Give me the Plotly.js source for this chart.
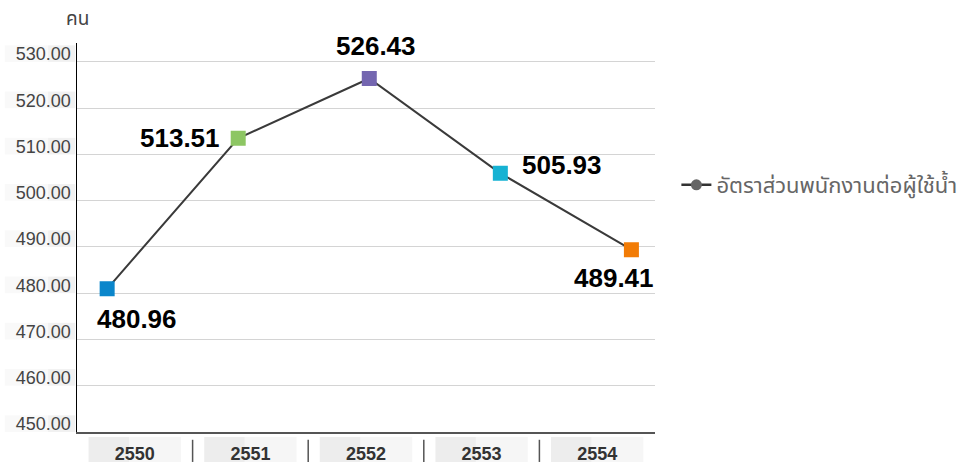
<!DOCTYPE html>
<html>
<head>
<meta charset="utf-8">
<script src="https://cdn.plot.ly/plotly-3.0.1.min.js"></script>
<style>html,body{margin:0;padding:0;background:#fff;}#chart{width:964px;height:463px;}</style>
</head>
<body>
<div id="chart"></div>
<script>
// ---- data ----
const years = ["2550", "2551", "2552", "2553", "2554"];
const ratio = [480.96, 513.51, 526.43, 505.93, 489.41];
const seriesName = "อัตราส่วนพนักงานต่อผู้ใช้น้ำ";
const unitLabel = "คน";
const yTicks = [450, 460, 470, 480, 490, 500, 510, 520, 530];

// ---- styles ----
const pointColors = ["#0b86cb", "#8dc663", "#7466b0", "#16b2d3", "#f27c06"];
const labelShift = [[30, -30], [-16, 0], [7, 32], [20, 8], [-17, -28]];
const labelAnchor = ["center", "right", "center", "left", "center"];
const numFont = "Liberation Sans, Arial, Helvetica, sans-serif";
const thaiFont = "Noto Sans Thai, Noto Sans, DejaVu Sans, sans-serif";

const traces = [
  {
    x: years, y: ratio, type: "scatter", mode: "lines+markers",
    xaxis: "x", yaxis: "y", showlegend: false, cliponaxis: false,
    line: {color: "#3a3a3a", width: 2},
    marker: {symbol: "square", size: 12, color: pointColors, line: {color: pointColors, width: 3}},
    hoverinfo: "x+y"
  },
  {
    x: years, y: years.map(() => null), type: "scatter", mode: "markers",
    xaxis: "x2", yaxis: "y", showlegend: false, hoverinfo: "skip"
  },
  {
    x: [null], y: [null], type: "scatter", mode: "lines+markers", name: seriesName,
    line: {color: "#333", width: 2.5}, marker: {symbol: "circle", size: 11, color: "#666"}
  }
];

const annotations = ratio.map((v, i) => ({
  x: i, y: v, xref: "x", yref: "y",
  text: "<b>" + v.toFixed(2) + "</b>", showarrow: false,
  xanchor: labelAnchor[i], yanchor: "middle",
  xshift: labelShift[i][0], yshift: labelShift[i][1],
  font: {family: numFont, size: 26, color: "#000"}
}));
annotations.push({
  x: 0, y: 1.06, xref: "paper", yref: "paper", text: unitLabel, showarrow: false,
  xanchor: "center", yanchor: "middle", font: {family: thaiFont, size: 19, color: "#444"}
});

const shapes = [];
years.forEach((y, i) => {
  shapes.push({type: "rect", xref: "x2", yref: "paper", x0: i - 0.4, x1: i + 0.4, y0: -0.013, y1: -0.077,
    fillcolor: "rgba(0,0,0,0.035)", line: {width: 0}, layer: "below"});
  shapes.push({type: "rect", xref: "x2", yref: "paper", x0: i - 0.4, x1: i - 0.05, y0: -0.013, y1: -0.077,
    fillcolor: "rgba(0,0,0,0.035)", line: {width: 0}, layer: "below"});
  if (i < years.length - 1) {
    shapes.push({type: "line", xref: "x2", yref: "paper", x0: i + 0.5, x1: i + 0.5, y0: -0.02, y1: -0.077,
      line: {color: "#555", width: 1.5}});
  }
});
yTicks.forEach(t => {
  shapes.push({type: "rect", xref: "paper", yref: "y", x0: -0.125, x1: -0.003, y0: t, y1: t + 3.6,
    fillcolor: "rgba(0,0,0,0.025)", line: {width: 0}, layer: "below"});
  shapes.push({type: "rect", xref: "paper", yref: "y", x0: -0.05, x1: -0.003, y0: t, y1: t + 3.6,
    fillcolor: "rgba(0,0,0,0.03)", line: {width: 0}, layer: "below"});
});

const layout = {
  width: 964, height: 463,
  margin: {l: 77, r: 309, t: 43, b: 31, autoexpand: false},
  paper_bgcolor: "#fff", plot_bgcolor: "#fff",
  showlegend: true,
  legend: {x: 1.037, y: 0.635, xanchor: "left", yanchor: "middle",
    font: {family: thaiFont, size: 22, color: "#666"}, itemwidth: 30},
  xaxis: {type: "category", range: [-0.23, 4.18], showticklabels: false, ticks: "",
    showgrid: false, zeroline: false, showline: true, linecolor: "#555", linewidth: 1.5, fixedrange: true},
  xaxis2: {type: "category", overlaying: "x", anchor: "y", side: "bottom", range: [-0.5, 4.5],
    showgrid: false, zeroline: false, showline: false, ticks: "", ticklabelstandoff: 9,
    tickfont: {family: numFont, size: 18, color: "#333", weight: "bold"}, fixedrange: true},
  yaxis: {range: [450, 534.1], tickvals: yTicks, ticktext: yTicks.map(t => t.toFixed(2)),
    showgrid: true, gridcolor: "#d4d4d4", gridwidth: 1, zeroline: false,
    showline: true, linecolor: "#000", linewidth: 1.5, ticks: "", ticklabelshift: -8, ticklabelstandoff: 1,
    tickfont: {family: numFont, size: 18, color: "#444"}, fixedrange: true},
  annotations: annotations,
  shapes: shapes
};

Plotly.newPlot("chart", traces, layout, {displayModeBar: false, staticPlot: true});
</script>
</body>
</html>
